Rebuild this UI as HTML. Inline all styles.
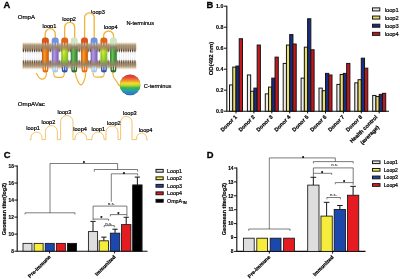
<!DOCTYPE html>
<html><head><meta charset="utf-8"><title>Figure</title>
<style>html,body{margin:0;padding:0;background:#fff;}body{width:400px;height:279px;overflow:hidden;}svg{display:block;}text{font-family:"Liberation Sans", sans-serif;}</style>
</head><body>
<svg width="400" height="279" viewBox="0 0 400 279">
<defs>
<pattern id="stripes" x="22.3" y="0" width="1.32" height="10" patternUnits="userSpaceOnUse"><rect x="0" y="0" width="0.68" height="10" fill="#4e3018"/></pattern>
<linearGradient id="bandT" x1="0" y1="0" x2="0" y2="1"><stop offset="0.000" stop-color="#eadcc4" stop-opacity="0"/><stop offset="0.227" stop-color="#ead8bc" stop-opacity="0.8"/><stop offset="0.591" stop-color="#d8c4a4" stop-opacity="0.9"/><stop offset="0.773" stop-color="#e0d0b8" stop-opacity="0.5"/><stop offset="0.955" stop-color="#ffffff" stop-opacity="0"/></linearGradient>
<linearGradient id="bandB" x1="0" y1="0" x2="0" y2="1"><stop offset="0.000" stop-color="#ffffff" stop-opacity="0"/><stop offset="0.200" stop-color="#e0d0b8" stop-opacity="0.5"/><stop offset="0.400" stop-color="#d8c4a4" stop-opacity="0.9"/><stop offset="0.750" stop-color="#ead8bc" stop-opacity="0.8"/><stop offset="1.000" stop-color="#eadcc4" stop-opacity="0"/></linearGradient>
<linearGradient id="stripeGrad" gradientUnits="userSpaceOnUse" x1="0" y1="42.5" x2="0" y2="69.5"><stop offset="0.000" stop-color="#d8c098" stop-opacity="0"/><stop offset="0.074" stop-color="#d2b88c" stop-opacity="0.7"/><stop offset="0.185" stop-color="#b89468" stop-opacity="0.9"/><stop offset="0.241" stop-color="#5a3418" stop-opacity="1"/><stop offset="0.293" stop-color="#2a1408" stop-opacity="1"/><stop offset="0.337" stop-color="#4a2c18" stop-opacity="0.75"/><stop offset="0.381" stop-color="#8088a0" stop-opacity="0.2"/><stop offset="0.511" stop-color="#a0a8c0" stop-opacity="0.12"/><stop offset="0.633" stop-color="#8088a0" stop-opacity="0.2"/><stop offset="0.678" stop-color="#4a2c18" stop-opacity="0.75"/><stop offset="0.733" stop-color="#2a1408" stop-opacity="1"/><stop offset="0.785" stop-color="#5a3418" stop-opacity="1"/><stop offset="0.841" stop-color="#b89468" stop-opacity="0.9"/><stop offset="0.926" stop-color="#d2b88c" stop-opacity="0.7"/><stop offset="1.000" stop-color="#d8c098" stop-opacity="0"/></linearGradient>
<linearGradient id="rainbow" x1="0" y1="0" x2="0" y2="1"><stop offset="0" stop-color="#e22c3a"/><stop offset="0.12" stop-color="#e8403a"/><stop offset="0.28" stop-color="#f0862a"/><stop offset="0.42" stop-color="#f2de22"/><stop offset="0.52" stop-color="#b8d830"/><stop offset="0.64" stop-color="#38b048"/><stop offset="0.78" stop-color="#20a0a8"/><stop offset="0.9" stop-color="#2880c8"/><stop offset="1" stop-color="#3862c0"/></linearGradient>
<radialGradient id="sphereHi" cx="0.5" cy="0.5" r="0.5"><stop offset="0" stop-color="#fff" stop-opacity="0.06"/><stop offset="0.8" stop-color="#fff" stop-opacity="0"/><stop offset="1" stop-color="#000" stop-opacity="0.16"/></radialGradient>
<linearGradient id="gO" x1="0" y1="0" x2="1" y2="0"><stop offset="0" stop-color="#c8560a"/><stop offset="0.35" stop-color="#f59a2c"/><stop offset="0.6" stop-color="#ec7a10"/><stop offset="1" stop-color="#c8560a"/></linearGradient>
<linearGradient id="gP" x1="0" y1="0" x2="1" y2="0"><stop offset="0" stop-color="#7a5cb0"/><stop offset="0.35" stop-color="#b49ce0"/><stop offset="0.6" stop-color="#9a7ed0"/><stop offset="1" stop-color="#7a5cb0"/></linearGradient>
<linearGradient id="gY" x1="0" y1="0" x2="1" y2="0"><stop offset="0" stop-color="#8cb820"/><stop offset="0.35" stop-color="#e0ee30"/><stop offset="0.6" stop-color="#c0dc20"/><stop offset="1" stop-color="#8cb820"/></linearGradient>
<linearGradient id="gG" x1="0" y1="0" x2="1" y2="0"><stop offset="0" stop-color="#2e7a2e"/><stop offset="0.35" stop-color="#6cc05a"/><stop offset="0.6" stop-color="#4aa040"/><stop offset="1" stop-color="#2e7a2e"/></linearGradient>
<linearGradient id="ygTint" x1="0" y1="0" x2="0" y2="1"><stop offset="0.3" stop-color="#58b838" stop-opacity="0"/><stop offset="1" stop-color="#58b838" stop-opacity="0.75"/></linearGradient>
<filter id="soft" x="-5%" y="-5%" width="110%" height="110%"><feGaussianBlur stdDeviation="0.35"/></filter>
<filter id="soft2" x="-5%" y="-5%" width="110%" height="110%"><feGaussianBlur stdDeviation="0.6"/></filter>
<filter id="soft3" x="-5%" y="-50%" width="110%" height="200%"><feGaussianBlur stdDeviation="0.4 0.9"/></filter>
<filter id="all" x="0" y="0" width="400" height="279" filterUnits="userSpaceOnUse"><feGaussianBlur stdDeviation="0.28"/></filter>
</defs>
<rect width="400" height="279" fill="#fff"/>
<g filter="url(#all)">
<g id="panelA">
<text x="3.6" y="8.3" font-size="9.4" font-weight="bold" fill="#000" stroke="#000" stroke-width="0.3">A</text>
<text x="17.8" y="18.7" font-size="6.05" fill="#000" stroke="#000" stroke-width="0.2">OmpA</text>
<text x="42.6" y="28.0" font-size="5.65" fill="#000" stroke="#000" stroke-width="0.2">loop1</text>
<text x="62.2" y="21.3" font-size="5.65" fill="#000" stroke="#000" stroke-width="0.2">loop2</text>
<text x="91.0" y="13.7" font-size="5.65" fill="#000" stroke="#000" stroke-width="0.2">loop3</text>
<text x="103.8" y="28.7" font-size="5.65" fill="#000" stroke="#000" stroke-width="0.2">loop4</text>
<text x="126.5" y="24.9" font-size="5.65" fill="#000" stroke="#000" stroke-width="0.2">N-terminus</text>
<text x="143.8" y="88" font-size="5.65" fill="#000" stroke="#000" stroke-width="0.2">C-terminus</text>
<text x="17.8" y="106.1" font-size="6.15" fill="#000" stroke="#000" stroke-width="0.2">OmpAVac</text>
<g filter="url(#soft)">
<rect x="22.3" y="42" width="114.3" height="11" fill="url(#bandT)"/>
<rect x="22.3" y="60" width="114.3" height="10" fill="url(#bandB)"/>
</g>
<rect x="22.85" y="42.5" width="1.15" height="27" fill="url(#stripeGrad)"/>
<rect x="25.08" y="42.5" width="1.15" height="27" fill="url(#stripeGrad)"/>
<rect x="27.31" y="42.5" width="1.15" height="27" fill="url(#stripeGrad)"/>
<rect x="29.54" y="42.5" width="1.15" height="27" fill="url(#stripeGrad)"/>
<rect x="31.77" y="42.5" width="1.15" height="27" fill="url(#stripeGrad)"/>
<rect x="34.00" y="42.5" width="1.15" height="27" fill="url(#stripeGrad)"/>
<rect x="36.23" y="42.5" width="1.15" height="27" fill="url(#stripeGrad)"/>
<rect x="38.46" y="42.5" width="1.15" height="27" fill="url(#stripeGrad)"/>
<rect x="40.69" y="42.5" width="1.15" height="27" fill="url(#stripeGrad)"/>
<rect x="42.92" y="42.5" width="1.15" height="27" fill="url(#stripeGrad)"/>
<rect x="45.15" y="42.5" width="1.15" height="27" fill="url(#stripeGrad)"/>
<rect x="47.38" y="42.5" width="1.15" height="27" fill="url(#stripeGrad)"/>
<rect x="49.61" y="42.5" width="1.15" height="27" fill="url(#stripeGrad)"/>
<rect x="51.84" y="42.5" width="1.15" height="27" fill="url(#stripeGrad)"/>
<rect x="54.07" y="42.5" width="1.15" height="27" fill="url(#stripeGrad)"/>
<rect x="56.30" y="42.5" width="1.15" height="27" fill="url(#stripeGrad)"/>
<rect x="58.53" y="42.5" width="1.15" height="27" fill="url(#stripeGrad)"/>
<rect x="60.76" y="42.5" width="1.15" height="27" fill="url(#stripeGrad)"/>
<rect x="62.99" y="42.5" width="1.15" height="27" fill="url(#stripeGrad)"/>
<rect x="65.22" y="42.5" width="1.15" height="27" fill="url(#stripeGrad)"/>
<rect x="67.45" y="42.5" width="1.15" height="27" fill="url(#stripeGrad)"/>
<rect x="69.68" y="42.5" width="1.15" height="27" fill="url(#stripeGrad)"/>
<rect x="71.91" y="42.5" width="1.15" height="27" fill="url(#stripeGrad)"/>
<rect x="74.14" y="42.5" width="1.15" height="27" fill="url(#stripeGrad)"/>
<rect x="76.37" y="42.5" width="1.15" height="27" fill="url(#stripeGrad)"/>
<rect x="78.60" y="42.5" width="1.15" height="27" fill="url(#stripeGrad)"/>
<rect x="80.83" y="42.5" width="1.15" height="27" fill="url(#stripeGrad)"/>
<rect x="83.06" y="42.5" width="1.15" height="27" fill="url(#stripeGrad)"/>
<rect x="85.29" y="42.5" width="1.15" height="27" fill="url(#stripeGrad)"/>
<rect x="87.52" y="42.5" width="1.15" height="27" fill="url(#stripeGrad)"/>
<rect x="89.75" y="42.5" width="1.15" height="27" fill="url(#stripeGrad)"/>
<rect x="91.98" y="42.5" width="1.15" height="27" fill="url(#stripeGrad)"/>
<rect x="94.21" y="42.5" width="1.15" height="27" fill="url(#stripeGrad)"/>
<rect x="96.44" y="42.5" width="1.15" height="27" fill="url(#stripeGrad)"/>
<rect x="98.67" y="42.5" width="1.15" height="27" fill="url(#stripeGrad)"/>
<rect x="100.90" y="42.5" width="1.15" height="27" fill="url(#stripeGrad)"/>
<rect x="103.13" y="42.5" width="1.15" height="27" fill="url(#stripeGrad)"/>
<rect x="105.36" y="42.5" width="1.15" height="27" fill="url(#stripeGrad)"/>
<rect x="107.59" y="42.5" width="1.15" height="27" fill="url(#stripeGrad)"/>
<rect x="109.82" y="42.5" width="1.15" height="27" fill="url(#stripeGrad)"/>
<rect x="112.05" y="42.5" width="1.15" height="27" fill="url(#stripeGrad)"/>
<rect x="114.28" y="42.5" width="1.15" height="27" fill="url(#stripeGrad)"/>
<rect x="116.51" y="42.5" width="1.15" height="27" fill="url(#stripeGrad)"/>
<rect x="118.74" y="42.5" width="1.15" height="27" fill="url(#stripeGrad)"/>
<rect x="120.97" y="42.5" width="1.15" height="27" fill="url(#stripeGrad)"/>
<rect x="123.20" y="42.5" width="1.15" height="27" fill="url(#stripeGrad)"/>
<rect x="125.43" y="42.5" width="1.15" height="27" fill="url(#stripeGrad)"/>
<rect x="127.66" y="42.5" width="1.15" height="27" fill="url(#stripeGrad)"/>
<rect x="129.89" y="42.5" width="1.15" height="27" fill="url(#stripeGrad)"/>
<rect x="132.12" y="42.5" width="1.15" height="27" fill="url(#stripeGrad)"/>
<rect x="134.35" y="42.5" width="1.15" height="27" fill="url(#stripeGrad)"/>
<path d="M45.20,39.00 L45.20,33.75 A5.05,5.05 0 0 1 55.30,33.75 L55.30,39.00" fill="none" stroke="#f0b338" stroke-width="1.3" stroke-linecap="round"/>
<path d="M64.70,39.00 L64.70,27.30 A5.00,5.00 0 0 1 74.70,27.30 L74.70,39.00" fill="none" stroke="#f0b338" stroke-width="1.3" stroke-linecap="round"/>
<path d="M84.60,39.00 L84.60,17.60 A4.80,4.80 0 0 1 94.20,17.60 L94.20,39.00" fill="none" stroke="#f0b338" stroke-width="1.3" stroke-linecap="round"/>
<path d="M103.60,39.00 L103.60,36.00 A5.00,5.00 0 0 1 113.60,36.00 L113.60,39.00" fill="none" stroke="#f0b338" stroke-width="1.3" stroke-linecap="round"/>
<path d="M46.4,72.6 C46.6,79.6 40.5,82.6 36.6,73.4" fill="none" stroke="#f0b338" stroke-width="1.2" stroke-linecap="round"/>
<path d="M53.6,72.3 C53.6,78.2 56,77.3 59,77.3 C62,77.3 64.4,78.2 64.4,72.3" fill="none" stroke="#f0b338" stroke-width="1.2"/>
<path d="M75.2,72.5 C76,78 79,84.8 81,84.8 C83,84.8 85.5,78 85.8,72.5" fill="none" stroke="#f0b338" stroke-width="1.2"/>
<path d="M93,72.5 C93,77.5 95,77.2 98.5,77.2 C102,77.2 104.4,77.5 104.4,72.5" fill="none" stroke="#f0b338" stroke-width="1.2"/>
<path d="M112.6,72.5 C113,80 116,79 117.5,83 C118.5,85.5 119.5,86 121,86" fill="none" stroke="#f0b338" stroke-width="1.2"/>
<g filter="url(#soft)">
<rect x="41.90" y="37.5" width="7.00" height="7.2" rx="2.9" fill="#d9551a"/>
<rect x="42.10" y="43" width="6.60" height="4.5" fill="#d9551a" opacity="0.55"/>
<rect x="42.50" y="66.2" width="5.80" height="6.4" rx="2.5" fill="#e8700e"/>
<rect x="42.40" y="64" width="6.00" height="4" fill="#e8700e" opacity="0.55"/>
<rect x="42.00" y="46.2" width="6.80" height="18.6" rx="1.2" fill="url(#gO)"/>
<rect x="43.60" y="42.4" width="1.0" height="4.2" rx="0.5" fill="#fff" opacity="0.85"/>
<rect x="46.20" y="42.4" width="1.0" height="4.2" rx="0.5" fill="#fff" opacity="0.85"/>
<rect x="43.80" y="65.4" width="1.0" height="4.8" rx="0.5" fill="#fff" opacity="0.85"/>
<rect x="46.00" y="65.4" width="1.0" height="4.8" rx="0.5" fill="#fff" opacity="0.85"/>
<rect x="51.70" y="37.5" width="7.00" height="7.2" rx="2.9" fill="#6f93dc"/>
<rect x="51.90" y="43" width="6.60" height="4.5" fill="#6f93dc" opacity="0.55"/>
<rect x="52.30" y="66.2" width="5.80" height="6.4" rx="2.5" fill="#a9c9ea"/>
<rect x="52.20" y="64" width="6.00" height="4" fill="#a9c9ea" opacity="0.55"/>
<rect x="51.80" y="46.2" width="6.80" height="18.6" rx="1.2" fill="url(#gP)"/>
<rect x="53.40" y="42.4" width="1.0" height="4.2" rx="0.5" fill="#fff" opacity="0.85"/>
<rect x="56.00" y="42.4" width="1.0" height="4.2" rx="0.5" fill="#fff" opacity="0.85"/>
<rect x="53.60" y="65.4" width="1.0" height="4.8" rx="0.5" fill="#fff" opacity="0.85"/>
<rect x="55.80" y="65.4" width="1.0" height="4.8" rx="0.5" fill="#fff" opacity="0.85"/>
<rect x="61.20" y="37.5" width="7.00" height="7.2" rx="2.9" fill="#e0651a"/>
<rect x="61.40" y="43" width="6.60" height="4.5" fill="#e0651a" opacity="0.55"/>
<rect x="61.80" y="66.2" width="5.80" height="6.4" rx="2.5" fill="#2a55b0"/>
<rect x="61.70" y="64" width="6.00" height="4" fill="#2a55b0" opacity="0.55"/>
<rect x="61.30" y="46.2" width="6.80" height="18.6" rx="1.2" fill="url(#gY)"/>
<rect x="61.30" y="46.2" width="6.80" height="18.6" rx="1.2" fill="url(#ygTint)"/>
<rect x="62.90" y="42.4" width="1.0" height="4.2" rx="0.5" fill="#fff" opacity="0.85"/>
<rect x="65.50" y="42.4" width="1.0" height="4.2" rx="0.5" fill="#fff" opacity="0.85"/>
<rect x="63.10" y="65.4" width="1.0" height="4.8" rx="0.5" fill="#fff" opacity="0.85"/>
<rect x="65.30" y="65.4" width="1.0" height="4.8" rx="0.5" fill="#fff" opacity="0.85"/>
<rect x="70.70" y="37.5" width="7.00" height="7.2" rx="2.9" fill="#cfe6c4"/>
<rect x="70.90" y="43" width="6.60" height="4.5" fill="#cfe6c4" opacity="0.55"/>
<rect x="71.30" y="66.2" width="5.80" height="6.4" rx="2.5" fill="#2c6e2c"/>
<rect x="71.20" y="64" width="6.00" height="4" fill="#2c6e2c" opacity="0.55"/>
<rect x="70.80" y="46.2" width="6.80" height="18.6" rx="1.2" fill="url(#gG)"/>
<rect x="72.40" y="42.4" width="1.0" height="4.2" rx="0.5" fill="#fff" opacity="0.85"/>
<rect x="75.00" y="42.4" width="1.0" height="4.2" rx="0.5" fill="#fff" opacity="0.85"/>
<rect x="72.60" y="65.4" width="1.0" height="4.8" rx="0.5" fill="#fff" opacity="0.85"/>
<rect x="74.80" y="65.4" width="1.0" height="4.8" rx="0.5" fill="#fff" opacity="0.85"/>
<rect x="81.00" y="37.5" width="7.00" height="7.2" rx="2.9" fill="#d9551a"/>
<rect x="81.20" y="43" width="6.60" height="4.5" fill="#d9551a" opacity="0.55"/>
<rect x="81.60" y="66.2" width="5.80" height="6.4" rx="2.5" fill="#e8700e"/>
<rect x="81.50" y="64" width="6.00" height="4" fill="#e8700e" opacity="0.55"/>
<rect x="81.10" y="46.2" width="6.80" height="18.6" rx="1.2" fill="url(#gO)"/>
<rect x="82.70" y="42.4" width="1.0" height="4.2" rx="0.5" fill="#fff" opacity="0.85"/>
<rect x="85.30" y="42.4" width="1.0" height="4.2" rx="0.5" fill="#fff" opacity="0.85"/>
<rect x="82.90" y="65.4" width="1.0" height="4.8" rx="0.5" fill="#fff" opacity="0.85"/>
<rect x="85.10" y="65.4" width="1.0" height="4.8" rx="0.5" fill="#fff" opacity="0.85"/>
<rect x="90.60" y="37.5" width="7.00" height="7.2" rx="2.9" fill="#6f93dc"/>
<rect x="90.80" y="43" width="6.60" height="4.5" fill="#6f93dc" opacity="0.55"/>
<rect x="91.20" y="66.2" width="5.80" height="6.4" rx="2.5" fill="#a9c9ea"/>
<rect x="91.10" y="64" width="6.00" height="4" fill="#a9c9ea" opacity="0.55"/>
<rect x="90.70" y="46.2" width="6.80" height="18.6" rx="1.2" fill="url(#gP)"/>
<rect x="92.30" y="42.4" width="1.0" height="4.2" rx="0.5" fill="#fff" opacity="0.85"/>
<rect x="94.90" y="42.4" width="1.0" height="4.2" rx="0.5" fill="#fff" opacity="0.85"/>
<rect x="92.50" y="65.4" width="1.0" height="4.8" rx="0.5" fill="#fff" opacity="0.85"/>
<rect x="94.70" y="65.4" width="1.0" height="4.8" rx="0.5" fill="#fff" opacity="0.85"/>
<rect x="100.40" y="37.5" width="7.00" height="7.2" rx="2.9" fill="#e0651a"/>
<rect x="100.60" y="43" width="6.60" height="4.5" fill="#e0651a" opacity="0.55"/>
<rect x="101.00" y="66.2" width="5.80" height="6.4" rx="2.5" fill="#2a55b0"/>
<rect x="100.90" y="64" width="6.00" height="4" fill="#2a55b0" opacity="0.55"/>
<rect x="100.50" y="46.2" width="6.80" height="18.6" rx="1.2" fill="url(#gY)"/>
<rect x="100.50" y="46.2" width="6.80" height="18.6" rx="1.2" fill="url(#ygTint)"/>
<rect x="102.10" y="42.4" width="1.0" height="4.2" rx="0.5" fill="#fff" opacity="0.85"/>
<rect x="104.70" y="42.4" width="1.0" height="4.2" rx="0.5" fill="#fff" opacity="0.85"/>
<rect x="102.30" y="65.4" width="1.0" height="4.8" rx="0.5" fill="#fff" opacity="0.85"/>
<rect x="104.50" y="65.4" width="1.0" height="4.8" rx="0.5" fill="#fff" opacity="0.85"/>
<rect x="109.90" y="37.5" width="7.00" height="7.2" rx="2.9" fill="#cfe6c4"/>
<rect x="110.10" y="43" width="6.60" height="4.5" fill="#cfe6c4" opacity="0.55"/>
<rect x="110.50" y="66.2" width="5.80" height="6.4" rx="2.5" fill="#2c6e2c"/>
<rect x="110.40" y="64" width="6.00" height="4" fill="#2c6e2c" opacity="0.55"/>
<rect x="110.00" y="46.2" width="6.80" height="18.6" rx="1.2" fill="url(#gG)"/>
<rect x="111.60" y="42.4" width="1.0" height="4.2" rx="0.5" fill="#fff" opacity="0.85"/>
<rect x="114.20" y="42.4" width="1.0" height="4.2" rx="0.5" fill="#fff" opacity="0.85"/>
<rect x="111.80" y="65.4" width="1.0" height="4.8" rx="0.5" fill="#fff" opacity="0.85"/>
<rect x="114.00" y="65.4" width="1.0" height="4.8" rx="0.5" fill="#fff" opacity="0.85"/>
</g>
<g filter="url(#soft3)" opacity="0.78">
<rect x="23" y="44.2" width="113" height="5.6" fill="#978268"/>
<rect x="23" y="61.6" width="113" height="5.4" fill="#978268"/>
</g>
<circle cx="130.1" cy="84.9" r="10.4" fill="url(#rainbow)"/>
<circle cx="130.1" cy="84.9" r="10.4" fill="url(#sphereHi)"/>
<path d="M29.50,139.60 L31.00,139.60 L31.00,137.50 A5.50,5.50 0 0 1 42.00,137.50 L42.00,139.60 L45.40,139.60 L45.40,131.60 A6.00,6.00 0 0 1 57.40,131.60 L57.40,139.60 L60.60,139.60 L60.60,121.80 A6.20,6.20 0 0 1 73.00,121.80 L73.00,139.60 L75.00,139.60 L75.00,138.20 A5.80,5.80 0 0 1 86.60,138.20 L86.60,139.60 L92.00,139.60 L92.00,138.00 A6.00,6.00 0 0 1 104.00,138.00 L104.00,139.60 L106.00,139.60 L106.00,132.00 A6.00,6.00 0 0 1 118.00,132.00 L118.00,139.60 L120.60,139.60 L120.60,122.10 A5.70,5.70 0 0 1 132.00,122.10 L132.00,139.60 L136.60,139.60 L136.60,138.00 A5.00,5.00 0 0 1 146.60,138.00 L146.60,139.60 L148,139.6" fill="none" stroke="#f4ba52" stroke-width="0.85" stroke-linejoin="round"/>
<text x="26.2" y="129.6" font-size="5.6" fill="#000" stroke="#000" stroke-width="0.2">loop1</text>
<text x="41.6" y="124" font-size="5.6" fill="#000" stroke="#000" stroke-width="0.2">loop2</text>
<text x="57.6" y="113.6" font-size="5.6" fill="#000" stroke="#000" stroke-width="0.2">loop3</text>
<text x="73.2" y="131.2" font-size="5.6" fill="#000" stroke="#000" stroke-width="0.2">loop4</text>
<text x="91.4" y="131.2" font-size="5.6" fill="#000" stroke="#000" stroke-width="0.2">loop1</text>
<text x="107" y="125.2" font-size="5.6" fill="#000" stroke="#000" stroke-width="0.2">loop2</text>
<text x="123" y="115" font-size="5.6" fill="#000" stroke="#000" stroke-width="0.2">loop3</text>
<text x="138.8" y="131.8" font-size="5.6" fill="#000" stroke="#000" stroke-width="0.2">loop4</text>
</g>
<g id="panelB">
<text x="206.4" y="8.0" font-size="9.4" font-weight="bold" fill="#000" stroke="#000" stroke-width="0.3">B</text>
<path d="M226.80,5.80 L226.80,111.20 L389.00,111.20" stroke="#0a0a0a" stroke-width="1.1" fill="none"/>
<line x1="224.00" y1="111.20" x2="226.80" y2="111.20" stroke="#0a0a0a" stroke-width="0.95"/>
<text x="223.40" y="113.00" font-size="5.3" font-weight="bold" fill="#000" stroke="#000" stroke-width="0.15" text-anchor="end">0.0</text>
<line x1="224.00" y1="90.20" x2="226.80" y2="90.20" stroke="#0a0a0a" stroke-width="0.95"/>
<text x="223.40" y="92.00" font-size="5.3" font-weight="bold" fill="#000" stroke="#000" stroke-width="0.15" text-anchor="end">0.2</text>
<line x1="224.00" y1="69.20" x2="226.80" y2="69.20" stroke="#0a0a0a" stroke-width="0.95"/>
<text x="223.40" y="71.00" font-size="5.3" font-weight="bold" fill="#000" stroke="#000" stroke-width="0.15" text-anchor="end">0.4</text>
<line x1="224.00" y1="48.20" x2="226.80" y2="48.20" stroke="#0a0a0a" stroke-width="0.95"/>
<text x="223.40" y="50.00" font-size="5.3" font-weight="bold" fill="#000" stroke="#000" stroke-width="0.15" text-anchor="end">0.6</text>
<line x1="224.00" y1="27.20" x2="226.80" y2="27.20" stroke="#0a0a0a" stroke-width="0.95"/>
<text x="223.40" y="29.00" font-size="5.3" font-weight="bold" fill="#000" stroke="#000" stroke-width="0.15" text-anchor="end">0.8</text>
<line x1="224.00" y1="6.20" x2="226.80" y2="6.20" stroke="#0a0a0a" stroke-width="0.95"/>
<text x="223.40" y="8.00" font-size="5.3" font-weight="bold" fill="#000" stroke="#000" stroke-width="0.15" text-anchor="end">1.0</text>
<text transform="translate(213.2,58.5) rotate(-90)" font-size="6.0" font-weight="bold" fill="#000" stroke="#000" stroke-width="0.18" text-anchor="middle">OD(492 nm)</text>
<rect x="229.50" y="84.95" width="3.25" height="26.25" fill="#ececec" stroke="#151515" stroke-width="1.0"/>
<rect x="232.75" y="67.10" width="3.25" height="44.10" fill="#e9de66" stroke="#151515" stroke-width="1.0"/>
<rect x="236.00" y="66.05" width="3.25" height="45.15" fill="#172d84" stroke="#151515" stroke-width="1.0"/>
<rect x="239.25" y="38.75" width="3.25" height="72.45" fill="#c6181f" stroke="#151515" stroke-width="1.0"/>
<line x1="236.00" y1="111.20" x2="236.00" y2="113.40" stroke="#0a0a0a" stroke-width="0.95"/>
<rect x="247.40" y="74.98" width="3.25" height="36.22" fill="#ececec" stroke="#151515" stroke-width="1.0"/>
<rect x="250.65" y="91.25" width="3.25" height="19.95" fill="#e9de66" stroke="#151515" stroke-width="1.0"/>
<rect x="253.90" y="88.10" width="3.25" height="23.10" fill="#172d84" stroke="#151515" stroke-width="1.0"/>
<rect x="257.15" y="45.05" width="3.25" height="66.15" fill="#c6181f" stroke="#151515" stroke-width="1.0"/>
<line x1="253.90" y1="111.20" x2="253.90" y2="113.40" stroke="#0a0a0a" stroke-width="0.95"/>
<rect x="265.30" y="93.88" width="3.25" height="17.33" fill="#ececec" stroke="#151515" stroke-width="1.0"/>
<rect x="268.55" y="87.05" width="3.25" height="24.15" fill="#e9de66" stroke="#151515" stroke-width="1.0"/>
<rect x="271.80" y="78.12" width="3.25" height="33.08" fill="#172d84" stroke="#151515" stroke-width="1.0"/>
<rect x="275.05" y="57.12" width="3.25" height="54.08" fill="#c6181f" stroke="#151515" stroke-width="1.0"/>
<line x1="271.80" y1="111.20" x2="271.80" y2="113.40" stroke="#0a0a0a" stroke-width="0.95"/>
<rect x="283.20" y="63.43" width="3.25" height="47.77" fill="#ececec" stroke="#151515" stroke-width="1.0"/>
<rect x="286.45" y="45.05" width="3.25" height="66.15" fill="#e9de66" stroke="#151515" stroke-width="1.0"/>
<rect x="289.70" y="34.55" width="3.25" height="76.65" fill="#172d84" stroke="#151515" stroke-width="1.0"/>
<rect x="292.95" y="44.00" width="3.25" height="67.20" fill="#c6181f" stroke="#151515" stroke-width="1.0"/>
<line x1="289.70" y1="111.20" x2="289.70" y2="113.40" stroke="#0a0a0a" stroke-width="0.95"/>
<rect x="301.10" y="78.12" width="3.25" height="33.08" fill="#ececec" stroke="#151515" stroke-width="1.0"/>
<rect x="304.35" y="47.15" width="3.25" height="64.05" fill="#e9de66" stroke="#151515" stroke-width="1.0"/>
<rect x="307.60" y="18.80" width="3.25" height="92.40" fill="#172d84" stroke="#151515" stroke-width="1.0"/>
<rect x="310.85" y="49.78" width="3.25" height="61.42" fill="#c6181f" stroke="#151515" stroke-width="1.0"/>
<line x1="307.60" y1="111.20" x2="307.60" y2="113.40" stroke="#0a0a0a" stroke-width="0.95"/>
<rect x="319.00" y="88.10" width="3.25" height="23.10" fill="#ececec" stroke="#151515" stroke-width="1.0"/>
<rect x="322.25" y="90.72" width="3.25" height="20.48" fill="#e9de66" stroke="#151515" stroke-width="1.0"/>
<rect x="325.50" y="73.40" width="3.25" height="37.80" fill="#172d84" stroke="#151515" stroke-width="1.0"/>
<rect x="328.75" y="74.98" width="3.25" height="36.22" fill="#c6181f" stroke="#151515" stroke-width="1.0"/>
<line x1="325.50" y1="111.20" x2="325.50" y2="113.40" stroke="#0a0a0a" stroke-width="0.95"/>
<rect x="336.90" y="84.42" width="3.25" height="26.78" fill="#ececec" stroke="#151515" stroke-width="1.0"/>
<rect x="340.15" y="74.45" width="3.25" height="36.75" fill="#e9de66" stroke="#151515" stroke-width="1.0"/>
<rect x="343.40" y="73.40" width="3.25" height="37.80" fill="#172d84" stroke="#151515" stroke-width="1.0"/>
<rect x="346.65" y="63.43" width="3.25" height="47.77" fill="#c6181f" stroke="#151515" stroke-width="1.0"/>
<line x1="343.40" y1="111.20" x2="343.40" y2="113.40" stroke="#0a0a0a" stroke-width="0.95"/>
<rect x="354.80" y="82.85" width="3.25" height="28.35" fill="#ececec" stroke="#151515" stroke-width="1.0"/>
<rect x="358.05" y="79.70" width="3.25" height="31.50" fill="#e9de66" stroke="#151515" stroke-width="1.0"/>
<rect x="361.30" y="58.18" width="3.25" height="53.02" fill="#172d84" stroke="#151515" stroke-width="1.0"/>
<rect x="364.55" y="68.15" width="3.25" height="43.05" fill="#c6181f" stroke="#151515" stroke-width="1.0"/>
<line x1="361.30" y1="111.20" x2="361.30" y2="113.40" stroke="#0a0a0a" stroke-width="0.95"/>
<rect x="372.70" y="95.45" width="3.25" height="15.75" fill="#ececec" stroke="#151515" stroke-width="1.0"/>
<rect x="375.95" y="96.50" width="3.25" height="14.70" fill="#e9de66" stroke="#151515" stroke-width="1.0"/>
<rect x="379.20" y="94.40" width="3.25" height="16.80" fill="#172d84" stroke="#151515" stroke-width="1.0"/>
<rect x="382.45" y="93.35" width="3.25" height="17.85" fill="#c6181f" stroke="#151515" stroke-width="1.0"/>
<line x1="379.20" y1="111.20" x2="379.20" y2="113.40" stroke="#0a0a0a" stroke-width="0.95"/>
<text transform="translate(237.30,117.40) rotate(-45)" font-size="5.45" font-weight="bold" fill="#000" stroke="#000" stroke-width="0.22" text-anchor="end">Donor 1</text>
<text transform="translate(255.20,117.40) rotate(-45)" font-size="5.45" font-weight="bold" fill="#000" stroke="#000" stroke-width="0.22" text-anchor="end">Donor 2</text>
<text transform="translate(273.10,117.40) rotate(-45)" font-size="5.45" font-weight="bold" fill="#000" stroke="#000" stroke-width="0.22" text-anchor="end">Donor 3</text>
<text transform="translate(291.00,117.40) rotate(-45)" font-size="5.45" font-weight="bold" fill="#000" stroke="#000" stroke-width="0.22" text-anchor="end">Donor 4</text>
<text transform="translate(308.90,117.40) rotate(-45)" font-size="5.45" font-weight="bold" fill="#000" stroke="#000" stroke-width="0.22" text-anchor="end">Donor 5</text>
<text transform="translate(326.80,117.40) rotate(-45)" font-size="5.45" font-weight="bold" fill="#000" stroke="#000" stroke-width="0.22" text-anchor="end">Donor 6</text>
<text transform="translate(344.70,117.40) rotate(-45)" font-size="5.45" font-weight="bold" fill="#000" stroke="#000" stroke-width="0.22" text-anchor="end">Donor 7</text>
<text transform="translate(362.60,117.40) rotate(-45)" font-size="5.45" font-weight="bold" fill="#000" stroke="#000" stroke-width="0.22" text-anchor="end">Donor 8</text>
<text transform="translate(377.90,117.50) rotate(-45)" font-size="5.45" font-weight="bold" fill="#000" stroke="#000" stroke-width="0.22" text-anchor="end">Health control</text>
<text transform="translate(379.50,127.70) rotate(-45)" font-size="5.45" font-weight="bold" fill="#000" stroke="#000" stroke-width="0.22" text-anchor="end">(average)</text>
<rect x="372.5" y="7.90" width="7.3" height="3.0" fill="#ececec" stroke="#151515" stroke-width="1.0"/>
<text x="384.7" y="11.50" font-size="5.75" fill="#000" stroke="#000" stroke-width="0.2">loop1</text>
<rect x="372.5" y="16.05" width="7.3" height="3.0" fill="#e9de66" stroke="#151515" stroke-width="1.0"/>
<text x="384.7" y="19.65" font-size="5.75" fill="#000" stroke="#000" stroke-width="0.2">loop2</text>
<rect x="372.5" y="24.20" width="7.3" height="3.0" fill="#172d84" stroke="#151515" stroke-width="1.0"/>
<text x="384.7" y="27.80" font-size="5.75" fill="#000" stroke="#000" stroke-width="0.2">loop3</text>
<rect x="372.5" y="32.35" width="7.3" height="3.0" fill="#c6181f" stroke="#151515" stroke-width="1.0"/>
<text x="384.7" y="35.95" font-size="5.75" fill="#000" stroke="#000" stroke-width="0.2">loop4</text>
</g>
<g id="panelC">
<text x="3.7" y="157.5" font-size="9.4" font-weight="bold" fill="#000" stroke="#000" stroke-width="0.3">C</text>
<path d="M17.20,165.60 L17.20,251.20 L147.50,251.20" stroke="#0a0a0a" stroke-width="1.1" fill="none"/>
<line x1="14.40" y1="251.20" x2="17.20" y2="251.20" stroke="#0a0a0a" stroke-width="0.95"/>
<text x="13.90" y="252.90" font-size="4.8" font-weight="bold" fill="#000" stroke="#000" stroke-width="0.15" text-anchor="end">8</text>
<line x1="14.40" y1="234.16" x2="17.20" y2="234.16" stroke="#0a0a0a" stroke-width="0.95"/>
<text x="13.90" y="235.86" font-size="4.8" font-weight="bold" fill="#000" stroke="#000" stroke-width="0.15" text-anchor="end">10</text>
<line x1="14.40" y1="217.12" x2="17.20" y2="217.12" stroke="#0a0a0a" stroke-width="0.95"/>
<text x="13.90" y="218.82" font-size="4.8" font-weight="bold" fill="#000" stroke="#000" stroke-width="0.15" text-anchor="end">12</text>
<line x1="14.40" y1="200.08" x2="17.20" y2="200.08" stroke="#0a0a0a" stroke-width="0.95"/>
<text x="13.90" y="201.78" font-size="4.8" font-weight="bold" fill="#000" stroke="#000" stroke-width="0.15" text-anchor="end">14</text>
<line x1="14.40" y1="183.04" x2="17.20" y2="183.04" stroke="#0a0a0a" stroke-width="0.95"/>
<text x="13.90" y="184.74" font-size="4.8" font-weight="bold" fill="#000" stroke="#000" stroke-width="0.15" text-anchor="end">16</text>
<line x1="14.40" y1="166.00" x2="17.20" y2="166.00" stroke="#0a0a0a" stroke-width="0.95"/>
<text x="13.90" y="167.70" font-size="4.8" font-weight="bold" fill="#000" stroke="#000" stroke-width="0.15" text-anchor="end">18</text>
<text transform="translate(6.2,209) rotate(-90)" font-size="5.55" font-weight="bold" fill="#000" stroke="#000" stroke-width="0.18" text-anchor="middle">Geomean titer(log2)</text>
<rect x="23.00" y="243.36" width="9" height="7.84" fill="#dedede" stroke="#151515" stroke-width="0.85"/>
<rect x="34.12" y="243.36" width="9" height="7.84" fill="#f6ec3a" stroke="#151515" stroke-width="0.85"/>
<rect x="45.24" y="243.36" width="9" height="7.84" fill="#1b47ac" stroke="#151515" stroke-width="0.85"/>
<rect x="56.36" y="243.36" width="9" height="7.84" fill="#e41c24" stroke="#151515" stroke-width="0.85"/>
<rect x="67.48" y="243.36" width="9" height="7.84" fill="#000000" stroke="#151515" stroke-width="0.85"/>
<path d="M93.00,231.60 L93.00,221.38 M90.40,221.38 L95.60,221.38" stroke="#0a0a0a" stroke-width="0.95" fill="none"/>
<rect x="88.40" y="231.60" width="9.20" height="19.60" fill="#dedede" stroke="#151515" stroke-width="0.85"/>
<path d="M103.87,240.81 L103.87,237.14 M101.27,237.14 L106.47,237.14" stroke="#0a0a0a" stroke-width="0.95" fill="none"/>
<rect x="99.17" y="240.81" width="9.40" height="10.39" fill="#f6ec3a" stroke="#151515" stroke-width="0.85"/>
<path d="M115.04,233.14 L115.04,229.22 M112.44,229.22 L117.64,229.22" stroke="#0a0a0a" stroke-width="0.95" fill="none"/>
<rect x="110.34" y="233.14" width="9.40" height="18.06" fill="#1b47ac" stroke="#151515" stroke-width="0.85"/>
<path d="M126.21,224.62 L126.21,217.29 M123.61,217.29 L128.81,217.29" stroke="#0a0a0a" stroke-width="0.95" fill="none"/>
<rect x="121.51" y="224.62" width="9.40" height="26.58" fill="#e41c24" stroke="#151515" stroke-width="0.85"/>
<path d="M137.38,184.91 L137.38,177.08 M134.78,177.08 L139.98,177.08" stroke="#0a0a0a" stroke-width="0.95" fill="none"/>
<rect x="132.68" y="184.91" width="9.40" height="66.29" fill="#000000" stroke="#151515" stroke-width="0.85"/>
<line x1="49.60" y1="251.20" x2="49.60" y2="253.40" stroke="#0a0a0a" stroke-width="0.95"/>
<text transform="translate(51.10,257.20) rotate(-45)" font-size="5.15" font-weight="bold" fill="#000" stroke="#000" stroke-width="0.25" text-anchor="end">Pre-immune</text>
<line x1="114.60" y1="251.20" x2="114.60" y2="253.40" stroke="#0a0a0a" stroke-width="0.95"/>
<text transform="translate(116.10,257.20) rotate(-45)" font-size="5.15" font-weight="bold" fill="#000" stroke="#000" stroke-width="0.25" text-anchor="end">Immunized</text>
<path d="M25,214.4 L25,212.8 L75,212.8 L75,214.4 M50,212.8 L50,163.5 L117.6,163.5 L117.6,169.5 M94.3,171.6 L94.3,169.5 L137.6,169.5 L137.6,171.6 M137.6,175.6 L137.6,173.8 L111.3,173.8 L111.3,201.6 M93.1,220 L93.1,206.1 L126.9,206.1 L126.9,216.6 M110.4,216.3 L110.4,214.6 L126.9,214.6 M93.1,219.1 L108.6,219.1 L108.6,220.8 M104.2,227.3 L104.2,225.6 L114.4,225.6 L114.4,227.3" stroke="#2a2a2a" stroke-width="0.62" fill="none"/>
<text x="84" y="164.6" font-size="4.6" font-weight="bold" fill="#000" stroke="#000" stroke-width="0.25" text-anchor="middle">*</text>
<text x="124" y="176.0" font-size="4.6" font-weight="bold" fill="#000" stroke="#000" stroke-width="0.25" text-anchor="middle">*</text>
<text x="118.5" y="216.0" font-size="4.6" font-weight="bold" fill="#000" stroke="#000" stroke-width="0.25" text-anchor="middle">*</text>
<text x="101.3" y="219.8" font-size="4.6" font-weight="bold" fill="#000" stroke="#000" stroke-width="0.25" text-anchor="middle">*</text>
<text x="111.3" y="204.6" font-size="4.0" font-weight="bold" fill="#222" text-anchor="middle">n.s.</text>
<text x="108.8" y="224.5" font-size="4.0" font-weight="bold" fill="#222" text-anchor="middle">n.s.</text>
<rect x="156.0" y="169.40" width="7.2" height="2.8" fill="#dedede" stroke="#151515" stroke-width="1.0"/>
<text x="167" y="172.70" font-size="5.35" fill="#000" stroke="#000" stroke-width="0.2">Loop1</text>
<rect x="156.0" y="176.90" width="7.2" height="2.8" fill="#f6ec3a" stroke="#151515" stroke-width="1.0"/>
<text x="167" y="180.20" font-size="5.35" fill="#000" stroke="#000" stroke-width="0.2">Loop2</text>
<rect x="156.0" y="184.40" width="7.2" height="2.8" fill="#1b47ac" stroke="#151515" stroke-width="1.0"/>
<text x="167" y="187.70" font-size="5.35" fill="#000" stroke="#000" stroke-width="0.2">Loop3</text>
<rect x="156.0" y="191.90" width="7.2" height="2.8" fill="#e41c24" stroke="#151515" stroke-width="1.0"/>
<text x="167" y="195.20" font-size="5.35" fill="#000" stroke="#000" stroke-width="0.2">Loop4</text>
<rect x="156.0" y="199.40" width="7.2" height="2.8" fill="#000000" stroke="#151515" stroke-width="1.0"/>
<text x="167" y="202.70" font-size="5.35" fill="#000" stroke="#000" stroke-width="0.2">OmpA<tspan font-size="3.2" dy="1.2">TM</tspan></text>
</g>
<g id="panelD">
<text x="206.8" y="157.6" font-size="9.4" font-weight="bold" fill="#000" stroke="#000" stroke-width="0.3">D</text>
<path d="M236.80,167.60 L236.80,251.40 L365.50,251.40" stroke="#0a0a0a" stroke-width="1.1" fill="none"/>
<line x1="234.00" y1="251.40" x2="236.80" y2="251.40" stroke="#0a0a0a" stroke-width="0.95"/>
<text x="233.50" y="253.10" font-size="4.8" font-weight="bold" fill="#000" stroke="#000" stroke-width="0.15" text-anchor="end">8</text>
<line x1="234.00" y1="237.50" x2="236.80" y2="237.50" stroke="#0a0a0a" stroke-width="0.95"/>
<text x="233.50" y="239.20" font-size="4.8" font-weight="bold" fill="#000" stroke="#000" stroke-width="0.15" text-anchor="end">9</text>
<line x1="234.00" y1="223.60" x2="236.80" y2="223.60" stroke="#0a0a0a" stroke-width="0.95"/>
<text x="233.50" y="225.30" font-size="4.8" font-weight="bold" fill="#000" stroke="#000" stroke-width="0.15" text-anchor="end">10</text>
<line x1="234.00" y1="209.70" x2="236.80" y2="209.70" stroke="#0a0a0a" stroke-width="0.95"/>
<text x="233.50" y="211.40" font-size="4.8" font-weight="bold" fill="#000" stroke="#000" stroke-width="0.15" text-anchor="end">11</text>
<line x1="234.00" y1="195.80" x2="236.80" y2="195.80" stroke="#0a0a0a" stroke-width="0.95"/>
<text x="233.50" y="197.50" font-size="4.8" font-weight="bold" fill="#000" stroke="#000" stroke-width="0.15" text-anchor="end">12</text>
<line x1="234.00" y1="181.90" x2="236.80" y2="181.90" stroke="#0a0a0a" stroke-width="0.95"/>
<text x="233.50" y="183.60" font-size="4.8" font-weight="bold" fill="#000" stroke="#000" stroke-width="0.15" text-anchor="end">13</text>
<line x1="234.00" y1="168.00" x2="236.80" y2="168.00" stroke="#0a0a0a" stroke-width="0.95"/>
<text x="233.50" y="169.70" font-size="4.8" font-weight="bold" fill="#000" stroke="#000" stroke-width="0.15" text-anchor="end">14</text>
<text transform="translate(226.3,209) rotate(-90)" font-size="5.55" font-weight="bold" fill="#000" stroke="#000" stroke-width="0.18" text-anchor="middle">Geomean titer(log2)</text>
<rect x="243.40" y="238.20" width="10.8" height="13.20" fill="#dedede" stroke="#151515" stroke-width="0.85"/>
<rect x="256.80" y="238.20" width="10.8" height="13.20" fill="#f6ec3a" stroke="#151515" stroke-width="0.85"/>
<rect x="270.20" y="238.20" width="10.8" height="13.20" fill="#1b47ac" stroke="#151515" stroke-width="0.85"/>
<rect x="283.60" y="238.20" width="10.8" height="13.20" fill="#e41c24" stroke="#151515" stroke-width="0.85"/>
<path d="M313.35,185.10 L313.35,177.31 M310.55,177.31 L316.15,177.31" stroke="#0a0a0a" stroke-width="0.95" fill="none"/>
<rect x="307.70" y="185.10" width="11.30" height="66.30" fill="#dedede" stroke="#151515" stroke-width="0.85"/>
<path d="M326.60,216.09 L326.60,202.33 M323.80,202.33 L329.40,202.33" stroke="#0a0a0a" stroke-width="0.95" fill="none"/>
<rect x="320.95" y="216.09" width="11.30" height="35.31" fill="#f6ec3a" stroke="#151515" stroke-width="0.85"/>
<path d="M339.85,209.42 L339.85,205.53 M337.05,205.53 L342.65,205.53" stroke="#0a0a0a" stroke-width="0.95" fill="none"/>
<rect x="334.20" y="209.42" width="11.30" height="41.98" fill="#1b47ac" stroke="#151515" stroke-width="0.85"/>
<path d="M353.10,195.24 L353.10,186.35 M350.30,186.35 L355.90,186.35" stroke="#0a0a0a" stroke-width="0.95" fill="none"/>
<rect x="347.45" y="195.24" width="11.30" height="56.16" fill="#e41c24" stroke="#151515" stroke-width="0.85"/>
<line x1="269.30" y1="251.40" x2="269.30" y2="253.60" stroke="#0a0a0a" stroke-width="0.95"/>
<text transform="translate(270.80,257.40) rotate(-45)" font-size="5.15" font-weight="bold" fill="#000" stroke="#000" stroke-width="0.25" text-anchor="end">Pre-immune</text>
<line x1="332.60" y1="251.40" x2="332.60" y2="253.60" stroke="#0a0a0a" stroke-width="0.95"/>
<text transform="translate(334.10,257.40) rotate(-45)" font-size="5.15" font-weight="bold" fill="#000" stroke="#000" stroke-width="0.25" text-anchor="end">Immunized</text>
<path d="M248.8,230.8 L248.8,229 L290,229 L290,230.8 M269.3,229 L269.3,157.9 L335.3,157.9 L335.3,161.6 M313.4,163.4 L313.4,161.6 L353.2,161.6 L353.2,163.4 M313.4,176.9 L313.4,167.9 L353.2,167.9 L353.2,184.9 M313.4,173.3 L331.7,173.3 L331.7,174.8 M335.3,184.2 L335.3,182.6 L353.2,182.6 M326.9,199.3 L326.9,197.5 L340.4,197.5 L340.4,199.3" stroke="#2a2a2a" stroke-width="0.62" fill="none"/>
<text x="303.2" y="159.6" font-size="4.6" font-weight="bold" fill="#000" stroke="#000" stroke-width="0.25" text-anchor="middle">*</text>
<text x="322.2" y="174.9" font-size="4.6" font-weight="bold" fill="#000" stroke="#000" stroke-width="0.25" text-anchor="middle">*</text>
<text x="344.2" y="184.2" font-size="4.6" font-weight="bold" fill="#000" stroke="#000" stroke-width="0.25" text-anchor="middle">*</text>
<text x="334.6" y="166.4" font-size="4.0" font-weight="bold" fill="#222" text-anchor="middle">n.s.</text>
<text x="333.4" y="196.4" font-size="4.0" font-weight="bold" fill="#222" text-anchor="middle">n.s.</text>
<rect x="372.5" y="160.90" width="7.5" height="2.7" fill="#dedede" stroke="#151515" stroke-width="1.0"/>
<text x="383.8" y="164.20" font-size="5.05" fill="#000" stroke="#000" stroke-width="0.22">Loop1</text>
<rect x="372.5" y="168.48" width="7.5" height="2.7" fill="#f6ec3a" stroke="#151515" stroke-width="1.0"/>
<text x="383.8" y="171.78" font-size="5.05" fill="#000" stroke="#000" stroke-width="0.22">Loop2</text>
<rect x="372.5" y="176.06" width="7.5" height="2.7" fill="#1b47ac" stroke="#151515" stroke-width="1.0"/>
<text x="383.8" y="179.36" font-size="5.05" fill="#000" stroke="#000" stroke-width="0.22">Loop3</text>
<rect x="372.5" y="183.64" width="7.5" height="2.7" fill="#e41c24" stroke="#151515" stroke-width="1.0"/>
<text x="383.8" y="186.94" font-size="5.05" fill="#000" stroke="#000" stroke-width="0.22">Loop4</text>
</g>
</g>
</svg>
</body></html>
